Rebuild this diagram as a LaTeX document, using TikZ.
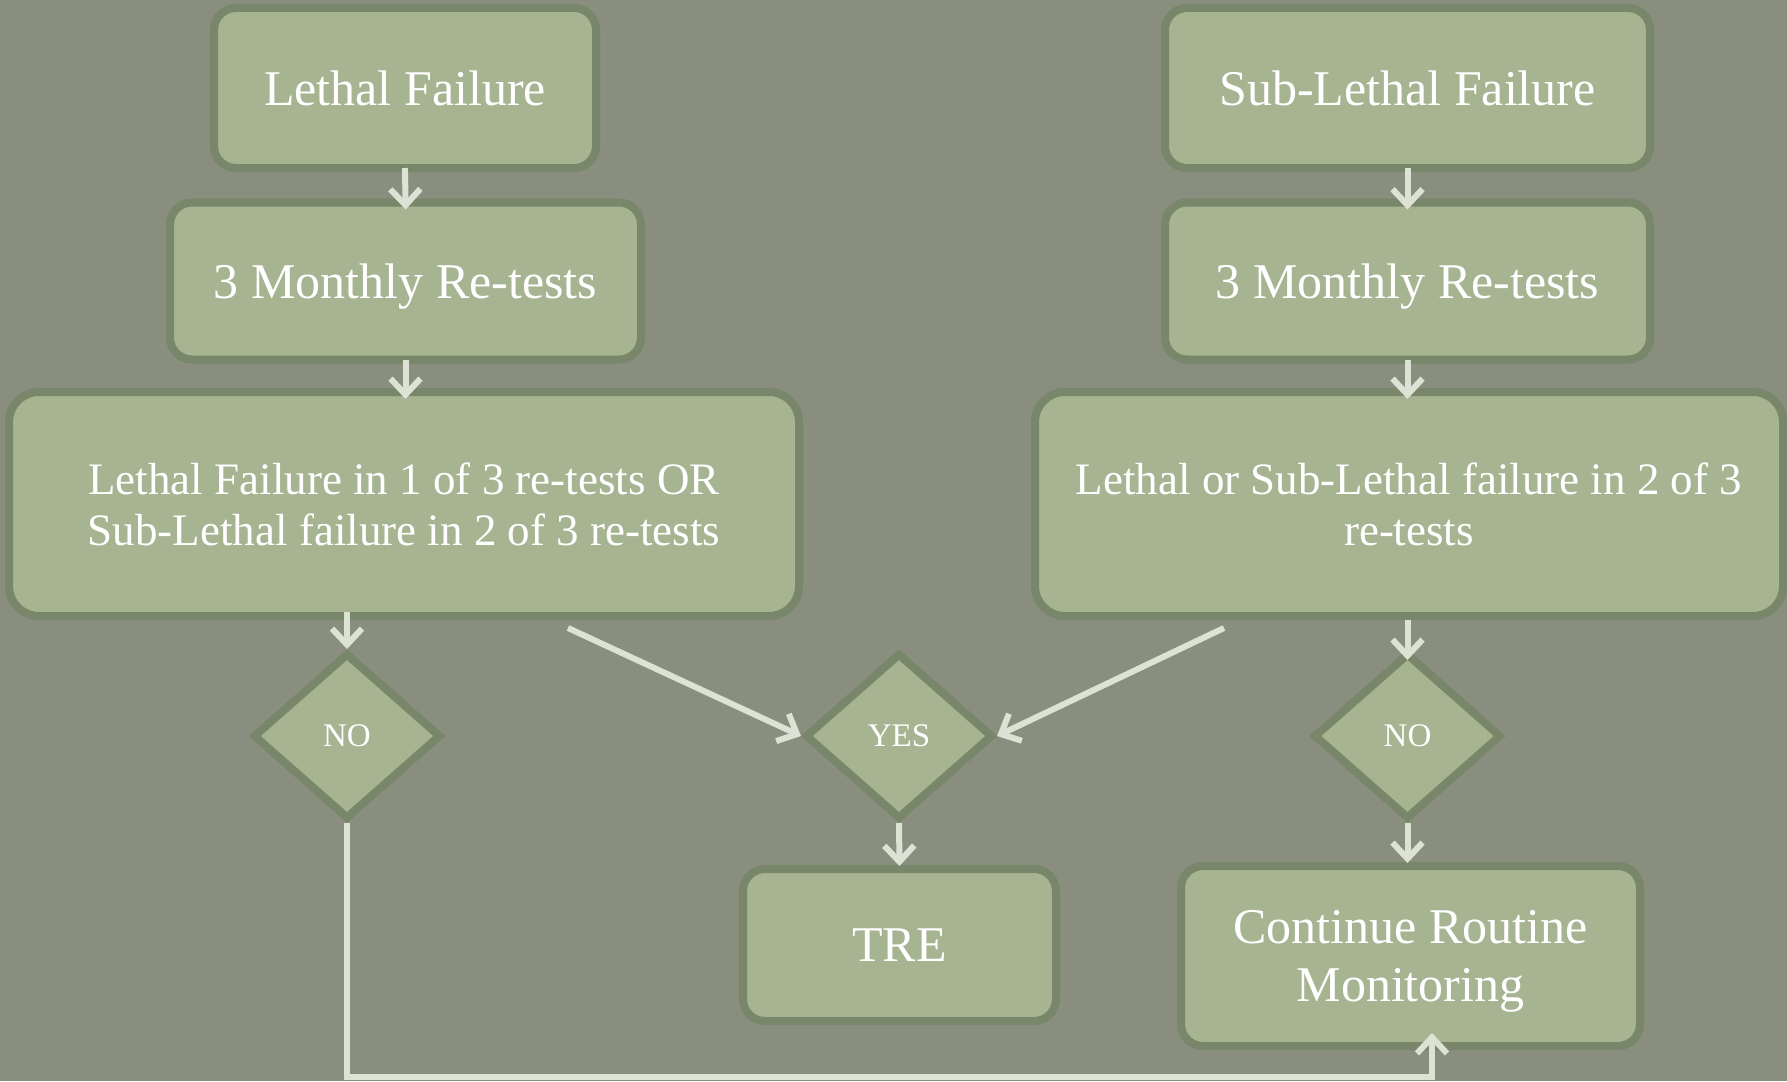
\documentclass[tikz,border=0pt]{standalone}
\usepackage{fontspec}
\setmainfont{Liberation Serif}
\usetikzlibrary{shapes.geometric,arrows.meta}
\definecolor{bg}{HTML}{898E7F}
\definecolor{boxfill}{HTML}{A6B492}
\definecolor{boxline}{HTML}{78866A}
\definecolor{arrowc}{HTML}{DCE3D4}
\begin{document}
\begin{tikzpicture}[x=1pt,y=-1pt,
  box/.style={draw=boxline, fill=boxfill, line width=8pt, rounded corners=22pt,
    text=white, align=center, inner sep=0pt, text depth=0pt},
  dec/.style={diamond, draw=boxline, fill=boxfill, line width=8pt, text=white,
    inner sep=0pt, minimum width=188pt, minimum height=166pt,
    font=\fontsize{33}{36}\selectfont},
  arr/.style={draw=arrowc, line width=6pt, -{Straight Barb[length=16pt,width=30pt]}},
  bigtext/.style={font=\fontsize{50}{58}\selectfont},
  midtext/.style={font=\fontsize{45}{51}\selectfont}]
\fill[bg] (0,0) rectangle (1787,1081);
\useasboundingbox (0,0) rectangle (1787,1081);

% left column
\node[box,bigtext,minimum width=382pt,minimum height=160pt] (lf) at (405,88) {Lethal Failure};
\node[box,bigtext,minimum width=471pt,minimum height=157pt] (lm) at (405.5,281) {3 Monthly Re-tests};
\node[box,midtext,minimum width=790pt,minimum height=224pt,rounded corners=30pt] (lb) at (404,504)
  {Lethal Failure in 1 of 3 re-tests OR\\Sub-Lethal failure in 2 of 3 re-tests};

% right column
\node[box,bigtext,minimum width=485pt,minimum height=160pt] (sf) at (1407.5,88) {Sub-Lethal Failure};
\node[box,bigtext,minimum width=485pt,minimum height=157pt] (rm) at (1407.5,281) {3 Monthly Re-tests};
\node[box,midtext,minimum width=748pt,minimum height=224pt,rounded corners=30pt] (rb) at (1409,504)
  {Lethal or Sub-Lethal failure in 2 of 3\\re-tests};

% decisions
\node[dec] (ld) at (347,736) {NO};
\node[dec] (yd) at (899,736) {YES};
\node[dec] (rd) at (1407.5,736) {NO};

% outcomes
\node[box,bigtext,minimum width=313pt,minimum height=152pt] (tre) at (899.5,945) {TRE};
\node[box,bigtext,minimum width=459pt,minimum height=180pt] (cont) at (1410.5,956) {Continue Routine\\Monitoring};

% connectors
\draw[arr,shorten <=-4pt,shorten >=-11pt] (lf.south) -- (lm.north);
\draw[arr,shorten <=-4pt,shorten >=-11pt] (lm.south) -- (lb.north -| lm.south);
\draw[arr,shorten <=-8pt] (lb.south -| ld.north) -- (ld.north);
\draw[arr,shorten <=-4pt,shorten >=-11pt] (sf.south) -- (rm.north);
\draw[arr,shorten <=-4pt,shorten >=-11pt] (rm.south) -- (rb.north -| rm.south);
\draw[arr,shorten >=-11pt] (rd.north |- rb.south) -- (rd.north);

\coordinate (s1) at (568,628);
\coordinate (s2) at (1224,628);
\draw[arr] (s1) -- (yd.west);
\draw[arr] (s2) -- (yd.east);

\draw[arr,shorten >=-1pt] (yd.south) -- (tre.north);
\draw[arr,shorten >=-1pt] (rd.south) -- (cont.north -| rd.south);

\coordinate (c1) at (347,1077);
\coordinate (c2) at (1432,1077);
\draw[arr,shorten >=-17pt] (ld.south) -- (c1) -- (c2) -- (c2 |- cont.south);
\end{tikzpicture}
\end{document}
